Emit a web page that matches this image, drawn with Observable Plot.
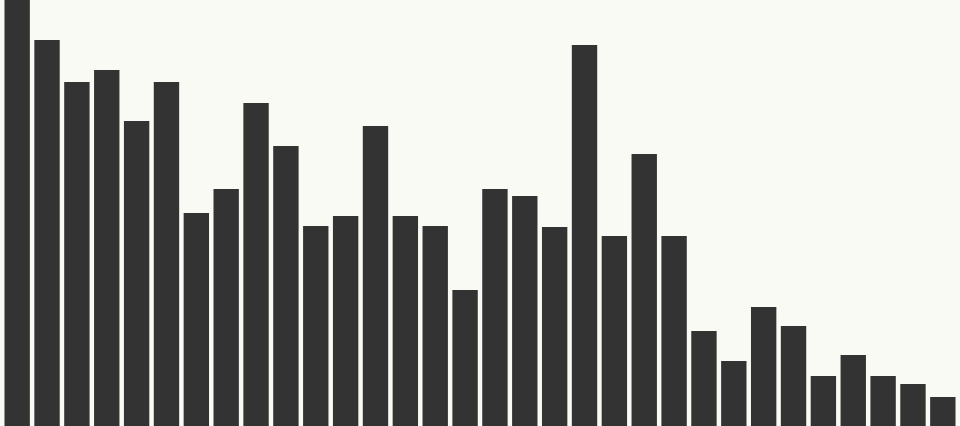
<!DOCTYPE html>
<html>
<head>
<meta charset="utf-8">
<script src="https://cdn.jsdelivr.net/npm/d3@7"></script>
<script src="https://cdn.jsdelivr.net/npm/@observablehq/plot@0.6"></script>
<style>
  html, body { margin: 0; padding: 0; background: #fafaf4; overflow: hidden; }
  svg { display: block; }
</style>
</head>
<body>
<div id="chart"></div>
<script>
const categories = Array.from({length: 32}, (_, i) => `B${i + 1}`);
const values = [426, 386, 344, 356, 305, 344, 213, 237, 323, 280, 200, 210, 300, 210, 200, 136,
                237, 230, 199, 381, 190, 272, 190, 95, 65, 119, 100, 50, 71, 50, 42, 29];
const data = categories.map((c, i) => ({category: c, value: values[i]}));

const chart = Plot.plot({
  width: 960,
  height: 426,
  margin: 0,
  x: {domain: categories, padding: 0.15, round: false, axis: null},
  y: {domain: [0, 426], axis: null},
  style: {background: "#fafaf4"},
  marks: [
    Plot.barY(data, {x: "category", y: "value", fill: "#333333"})
  ]
});
document.getElementById("chart").append(chart);
</script>
</body>
</html>
